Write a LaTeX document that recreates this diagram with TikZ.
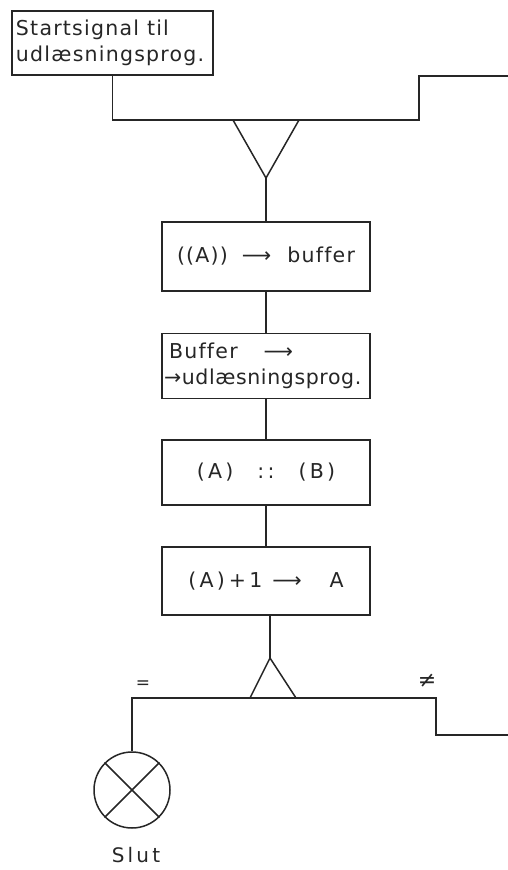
\documentclass[tikz,border=0pt]{standalone}
\usepackage{fontspec}
\newfontfamily\hand[LetterSpace=6,Ligatures=NoCommon]{DejaVu Sans}
\newfontfamily\handwide[LetterSpace=16,Ligatures=NoCommon]{DejaVu Sans}
\newfontfamily\handtight[LetterSpace=3,Ligatures=NoCommon]{DejaVu Sans}
\newfontfamily\plainsym{DejaVu Sans}
\begin{document}
\begin{tikzpicture}[x=1pt,y=-1pt,
  ink/.style={draw=black!85, line width=1.5pt},
  box/.style={ink, minimum width=208pt, inner sep=0pt, text=black!85,
    font=\hand\fontsize{20.5}{26.5}\selectfont},
  widebox/.style={box, font=\handwide\fontsize{20.5}{26.5}\selectfont},
  lbl/.style={text=black!85, inner sep=0pt}]
\useasboundingbox (0,0) rectangle (508,870);
% boxes
\node[box, minimum width=201pt, minimum height=64pt, align=left, text width=193pt] (start) at (112.5,43) {Startsignal\hspace{8pt}til\\udlæsningsprog.};
\node[box, minimum height=69pt] (b2) at (266,256.5) {((A))\hspace{14pt}⟶\hspace{16pt}buffer};
\node[box, minimum height=65pt, align=left, text width=204pt] (b3) at (266,366) {\hspace{5pt}Buffer\hspace{26pt}⟶\\{\handtight →udlæsningsprog.}};
\node[widebox, minimum height=65pt] (b4) at (266,472.5) {(A)\hspace{24pt}::\hspace{24pt}(B)};
\node[widebox, minimum height=68pt] (b5) at (266,581) {(A)\hspace{4pt}+1\hspace{10pt}⟶\hspace{28pt}A};
% top wiring
\coordinate (tr) at (419,120);
\coordinate (tr2) at (419,76);
\coordinate (te) at (508,76);
\draw[ink] (start.south) -- (start.south |- tr) -- (tr) -- (tr2) -- (te);
\coordinate (ya) at (233,120);
\coordinate (yb) at (299,120);
\coordinate (yv) at (266,178);
\draw[ink] (ya) -- (yv) -- (yb);
\draw[ink] (yv) -- (b2.north);
% chain
\draw[ink] (b2) -- (b3);
\draw[ink] (b3) -- (b4);
\draw[ink] (b4) -- (b5);
% bottom
\coordinate (apex) at (270,658);
\coordinate (tl) at (250,698);
\coordinate (trr) at (296,698);
\draw[ink] (apex |- b5.south) -- (apex);
\draw[ink] (tl) -- (apex) -- (trr);
\node[ink, circle, minimum size=76pt, inner sep=0pt] (slut) at (132,790) {};
\coordinate (bl) at (132,698);
\coordinate (br) at (436,698);
\coordinate (br2) at (436,735);
\coordinate (be) at (508,735);
\draw[ink] (slut.north) -- (bl) -- (br) -- (br2) -- (be);
\draw[ink] (slut.45) -- (slut.225) (slut.135) -- (slut.315);
\node[lbl, font=\handwide\fontsize{20}{22}\selectfont] (slutlbl) at (136,855) {Slut};
\node[lbl, font=\plainsym\fontsize{17}{18}\selectfont] (eq) at (143,685) {=};
\node[lbl, font=\plainsym\fontsize{22}{24}\selectfont] (neq) at (427,681) {≠};
\end{tikzpicture}
\end{document}
